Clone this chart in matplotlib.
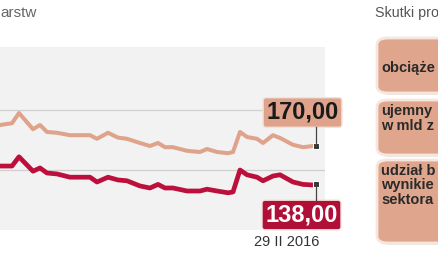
import matplotlib
matplotlib.use("Agg")
import matplotlib.pyplot as plt
from matplotlib.patches import FancyBboxPatch
from matplotlib.lines import Line2D

# time axis (arbitrary units, last point = 29 II 2016) and the two series
t = [0, 12, 19, 33, 40, 47, 57, 70, 90, 97, 108, 118, 127, 140, 150, 158, 165, 173,
     187, 200, 207, 217, 228, 233, 240, 247, 257, 263, 273, 280, 293, 303, 313, 316]
upper = [187.5, 189, 197.5, 184, 187.5, 181.7, 181, 179, 179, 176, 181, 177, 176, 172.5,
         170, 172.5, 169, 169, 166, 165, 167.5, 165, 164, 165, 181.7, 177.5, 176, 172.5,
         179, 176.7, 171, 169, 170, 170]
lower = [153.3, 153.3, 161, 149, 151.7, 147.5, 146.7, 144, 144, 140, 144, 141.7, 141,
         136.7, 135, 138, 135, 135, 132.5, 132.5, 134, 132.5, 131, 131.7, 150, 146, 144,
         141, 145, 146, 140, 138, 137.5, 138]
grid_vals = [150, 200]
end_labels = ["170,00", "138,00"]
date_label = "29 II 2016"
# the source graphic is cropped: only these fragments are visible
title_left = "arstw"
title_right = "Skutki pro"
side_texts = ["obciąże", "ujemny\nw mld z", "udział b\nwynikie\nsektora"]

BEIGE = "#dfa38b"
RED = "#bd0f3c"
W, H = 439, 274
SANS = ["Liberation Sans", "DejaVu Sans"]

fig = plt.figure(figsize=(W / 100, H / 100), dpi=100)
fig.patch.set_facecolor("white")


def fx(px):
    return px / W


def fy(py):
    return 1 - py / H


ax = fig.add_axes([0, fy(230), fx(325), (230 - 47) / H])
ax.set_facecolor("#f2f2f2")
for s in ax.spines.values():
    s.set_visible(False)
ax.set_xticks([]); ax.set_yticks([])
ax.set_xlim(0, 325); ax.set_ylim(100, 252.5)
for g in grid_vals:
    ax.axhline(g, color="#cfcfcf", lw=0.9, zorder=1)

ax.plot(t, upper, color=BEIGE, lw=2.9, solid_joinstyle="round", zorder=3)
ax.plot(t, lower, color=RED, lw=3.4, solid_joinstyle="round", zorder=3)

# end markers + callout boxes
boxes = [(302.5, 112.5, BEIGE, "#1a1a1a", 127), (301.5, 215, "#b00f38", "white", 200)]
for (cx, cy, fc, tc, edge_y), series, lab in zip(boxes, [upper, lower], end_labels):
    px, py = ax.transData.transform((t[-1], series[-1]))
    fig.add_artist(Line2D([px / W, px / W], [py / H, fy(edge_y)], color="#444444", lw=0.9,
                          transform=fig.transFigure, zorder=4))
    ax.plot(t[-1], series[-1], marker="s", ms=4, mfc="#333333", mec="white", mew=0.8,
            zorder=6, clip_on=False)
    fig.text(fx(cx), fy(cy), lab, ha="center", va="center", fontsize=17, fontweight="bold",
             color=tc, family=SANS,
             bbox=dict(boxstyle="round,pad=0.14,rounding_size=0.12", fc=fc, ec="#f4e2d8", lw=1.0))

fig.text(fx(287), fy(242), date_label, ha="center", va="center", fontsize=10.5,
         color="#333333", family=SANS)

# headings (cropped in the source)
fig.text(fx(0), fy(13), title_left, ha="left", va="center", fontsize=11,
         color="#666666", family=SANS)
fig.text(fx(375), fy(13), title_right, ha="left", va="center", fontsize=10.3,
         color="#555555", family=SANS)

# right-hand boxes
for (top, bot), txt_y, txt in zip([(38, 93), (100, 155), (160, 243)], [68, 118.5, 185.5],
                                  side_texts):
    sh = FancyBboxPatch((fx(379), fy(bot + 2)), fx(80), (bot - top) / H,
                        boxstyle="round,pad=0,rounding_size=0.025", fc="#bbbbbb", ec="none",
                        alpha=0.35, transform=fig.transFigure, zorder=1)
    fig.add_artist(sh)
    bx = FancyBboxPatch((fx(377), fy(bot)), fx(80), (bot - top) / H,
                        boxstyle="round,pad=0,rounding_size=0.025", fc="#dfa68d", ec="#f6e6de",
                        lw=2.0, transform=fig.transFigure, zorder=2)
    fig.add_artist(bx)
    fig.text(fx(381), fy(txt_y), txt, ha="left", va="center", fontsize=10.5,
             fontweight="bold", color="#2a2a2a", family=SANS, linespacing=1.08, zorder=3)

fig.savefig("out.png", dpi=100)
